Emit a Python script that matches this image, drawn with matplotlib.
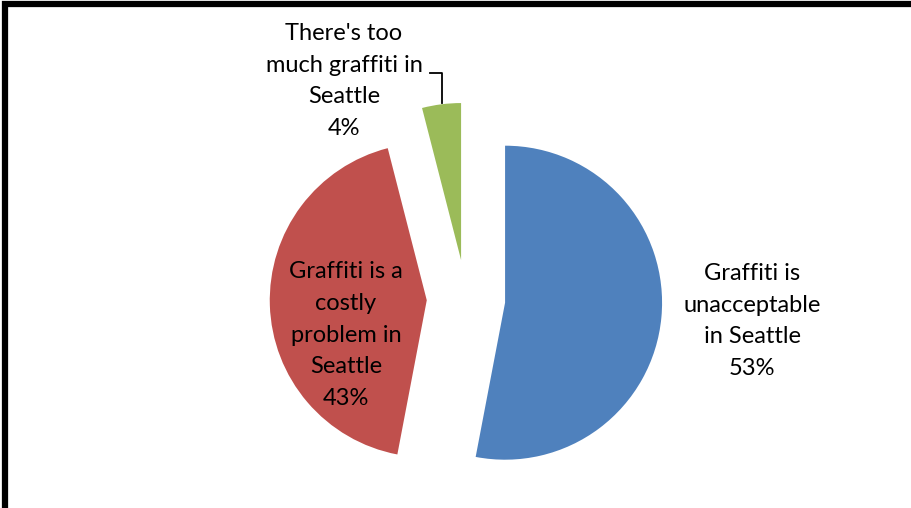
import matplotlib.pyplot as plt
from matplotlib.patches import Rectangle

# survey answers, Seattle graffiti
labels = ["Graffiti is\nunacceptable\nin Seattle",
          "Graffiti is a\ncostly\nproblem in\nSeattle",
          "There's too\nmuch graffiti in\nSeattle"]
shares = [53, 43, 4]
colors = ["#4F81BD", "#C0504D", "#9BBB59"]

W, H = 912, 508
R_PX = 157.0            # pie radius in pixels
CX, CY = 466.0, 209.0   # pie centre in pixels (from bottom-left)

fig = plt.figure(figsize=(W / 100, H / 100), dpi=100)
ax = fig.add_axes([0, 0, 1, 1])
ax.axis("off")

wedges, _ = ax.pie(shares, colors=colors, startangle=90, counterclock=False,
                   explode=[0.25] * 3, radius=1.0,
                   wedgeprops=dict(linewidth=0))
ax.set_xlim(-CX / R_PX, (W - CX) / R_PX)
ax.set_ylim(-CY / R_PX, (H - CY) / R_PX)
ax.set_aspect("auto")


def px(x, y_top):
    # pixel position (y measured from top) -> data coords
    return (x - CX) / R_PX, (H - y_top - CY) / R_PX


font = dict(family=["Lato", "DejaVu Sans"], fontsize=17, color="black",
            ha="center", va="center", linespacing=1.62)
label_pos = [(752, 321), (346, 335), (344, 81)]
for lab, s, (x, y) in zip(labels, shares, label_pos):
    ax.text(*px(x, y), f"{lab}\n{s}%", **font)

# leader line to the small slice
lx = [px(430, 73)[0], px(442, 73)[0], px(442, 103)[0]]
ly = [px(430, 73)[1], px(442, 73)[1], px(442, 103)[1]]
ax.plot(lx, ly, color="black", lw=1.3)

# chart frame, only the top and left edges fall inside the image
fig.patches.append(Rectangle((5 / W, -0.1), 1.2, (H - 4.5) / H + 0.1,
                             transform=fig.transFigure, fill=False,
                             edgecolor="black", lw=4.5))

fig.savefig("out.png", dpi=100)
